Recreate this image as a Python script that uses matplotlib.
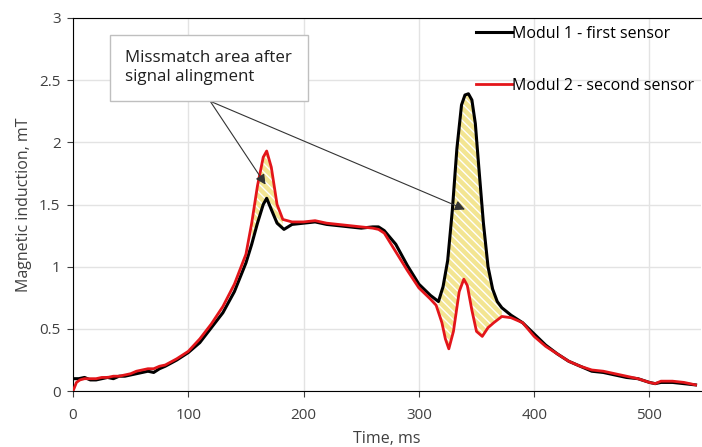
import matplotlib.pyplot as plt
import numpy as np

plt.rcParams['font.family'] = ['Open Sans', 'DejaVu Sans']

# Modul 1 - first sensor (black)
t1 = [0, 5, 10, 15, 20, 25, 30, 35, 40, 45, 50, 55, 60, 65, 70, 75, 80, 90, 100, 110,
      120, 130, 140, 150, 155, 160, 165, 168, 172, 177, 183, 190, 200, 210, 220, 230,
      240, 250, 260, 265, 270, 280, 290, 300, 310, 317, 321, 325, 329, 333, 337, 340,
      343, 346, 349, 352, 356, 360, 364, 368, 372, 380, 390, 400, 410, 420, 430, 440,
      450, 460, 470, 480, 490, 500, 505, 510, 520, 530, 540]
b1 = [0.10, 0.10, 0.11, 0.09, 0.09, 0.10, 0.11, 0.10, 0.12, 0.12, 0.13, 0.14, 0.15, 0.16,
      0.15, 0.18, 0.20, 0.25, 0.31, 0.39, 0.51, 0.63, 0.80, 1.03, 1.18, 1.35, 1.50, 1.55,
      1.46, 1.35, 1.30, 1.34, 1.35, 1.36, 1.34, 1.33, 1.32, 1.31, 1.32, 1.32, 1.29, 1.18,
      1.01, 0.86, 0.77, 0.72, 0.84, 1.05, 1.45, 1.95, 2.30, 2.38, 2.39, 2.34, 2.15, 1.80,
      1.35, 1.00, 0.82, 0.72, 0.67, 0.61, 0.55, 0.46, 0.37, 0.30, 0.24, 0.20, 0.16, 0.15,
      0.13, 0.11, 0.10, 0.07, 0.06, 0.07, 0.07, 0.06, 0.05]

# Modul 2 - second sensor (red)
t2 = [0, 3, 6, 10, 15, 20, 25, 30, 35, 40, 45, 50, 55, 60, 65, 70, 75, 80, 90, 100, 110,
      120, 130, 140, 150, 155, 160, 165, 168, 172, 177, 182, 190, 200, 210, 220, 230,
      240, 250, 260, 265, 270, 280, 290, 300, 310, 315, 320, 323, 326, 330, 335, 339,
      342, 346, 350, 355, 360, 365, 372, 380, 390, 400, 410, 420, 430, 440, 450, 460,
      470, 480, 490, 500, 505, 510, 520, 530, 540]
r2 = [0.00, 0.07, 0.09, 0.10, 0.10, 0.10, 0.11, 0.11, 0.12, 0.12, 0.13, 0.14, 0.16, 0.17,
      0.18, 0.18, 0.20, 0.21, 0.26, 0.32, 0.42, 0.54, 0.68, 0.86, 1.10, 1.35, 1.65, 1.88,
      1.93, 1.80, 1.50, 1.38, 1.36, 1.36, 1.37, 1.35, 1.34, 1.33, 1.32, 1.31, 1.30, 1.27,
      1.12, 0.97, 0.83, 0.74, 0.69, 0.55, 0.42, 0.34, 0.48, 0.80, 0.90, 0.85, 0.65, 0.48,
      0.44, 0.51, 0.55, 0.60, 0.59, 0.55, 0.44, 0.36, 0.30, 0.24, 0.20, 0.17, 0.16, 0.14,
      0.12, 0.10, 0.07, 0.06, 0.08, 0.08, 0.07, 0.05]

t1 = np.array(t1, float)
b1 = np.array(b1)
t2 = np.array(t2, float)
r2 = np.array(r2)

fig = plt.figure(figsize=(7.02, 4.47), dpi=100)
ax = fig.add_axes([0.104, 0.125, 0.895, 0.835])

# mismatch areas on a common time grid
tc = np.union1d(t1, t2)
bc = np.interp(tc, t1, b1)
rc = np.interp(tc, t2, r2)
for lo, hi in [(152, 182), (316, 374)]:
    m = (tc >= lo) & (tc <= hi)
    ax.fill_between(tc[m], bc[m], rc[m], facecolor='#f3e592', edgecolor='white',
                    hatch='\\\\\\\\', linewidth=0, zorder=2)

ax.plot(t1, b1, color='black', lw=2.2, label='Modul 1 - first sensor', zorder=3)
ax.plot(t2, r2, color='#e3151a', lw=2.0, label='Modul 2 - second sensor', zorder=4)

ax.set_xlim(0, 545)
ax.set_ylim(0, 3)
ax.set_xticks([0, 100, 200, 300, 400, 500])
ax.set_yticks([0, 0.5, 1, 1.5, 2, 2.5, 3])
ax.set_yticklabels(['0', '0.5', '1', '1.5', '2', '2.5', '3'])
ax.grid(True, color='#e3e3e3', lw=1)
ax.set_axisbelow(True)
for s in ['left', 'bottom', 'top']:
    ax.spines[s].set_color('black')
ax.spines['right'].set_visible(False)
ax.tick_params(colors='#404040', labelsize=11, length=4, direction='out', pad=5)
ax.tick_params(axis='x', pad=8)
ax.set_xlabel('Time, ms', fontsize=11.5, color='#404040', labelpad=6)
ax.set_ylabel('Magnetic induction, mT', fontsize=11.5, color='#404040', labelpad=5)

leg = ax.legend(loc='upper right', bbox_to_anchor=(1.012, 1.017), frameon=False,
                fontsize=11.5, labelspacing=2.25, handlelength=2.25, handletextpad=0.0)

ax.text(45.5, 2.60, 'Missmatch area after\nsignal alingment', fontsize=12.2, va='center',
        ha='left', linespacing=1.3, color='#202020',
        bbox=dict(boxstyle='square,pad=0.9', facecolor='white', edgecolor='#bfbfbf', lw=1),
        zorder=6)
for tx, ty in [(167, 1.66), (340, 1.46)]:
    ax.annotate('', xy=(tx, ty), xytext=(119, 2.33),
                arrowprops=dict(arrowstyle='-|>,head_length=0.6,head_width=0.3',
                                color='#333333', lw=0.8, shrinkA=0, shrinkB=0),
                zorder=5)

fig.savefig('out.png', dpi=100)
